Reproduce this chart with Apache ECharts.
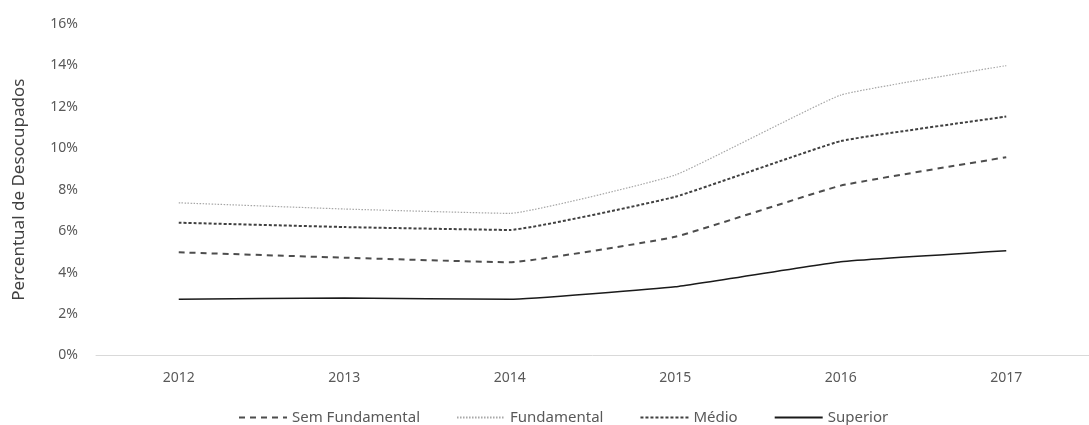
<!DOCTYPE html>
<html>
<head>
<meta charset="utf-8">
<script src="https://cdn.jsdelivr.net/npm/echarts@6/dist/echarts.min.js"></script>
<style>
  html, body { margin: 0; padding: 0; background: #fff; }
  #chart { width: 1089px; height: 425px; }
</style>
</head>
<body>
<div id="chart"></div>
<script>
// Unemployment share by education level, 2012-2017 (percent)
const years = ['2012', '2013', '2014', '2015', '2016', '2017'];
const semFundamental = [4.98, 4.72, 4.50, 5.73, 8.20, 9.57];
const fundamental = [7.37, 7.07, 6.86, 8.71, 12.57, 13.99];
const medio = [6.41, 6.20, 6.06, 7.66, 10.35, 11.53];
const superior = [2.71, 2.78, 2.71, 3.32, 4.53, 5.06];

const FONT = 'Noto Sans';
const chart = echarts.init(document.getElementById('chart'));

function lineSeries(name, data, color, width, type) {
  return {
    name: name,
    type: 'line',
    data: data,
    smooth: 0.1,
    symbol: 'none',
    lineStyle: { color: color, width: width, type: type },
    itemStyle: { color: color },
    emphasis: { disabled: true }
  };
}

chart.setOption({
  animation: false,
  backgroundColor: '#ffffff',
  grid: { left: 96, right: -9, top: 24, bottom: 69.5 },
  legend: {
    top: 405,
    left: 233,
    itemWidth: 48,
    itemHeight: 14,
    itemGap: 36,
    itemStyle: { color: 'transparent', borderWidth: 0, opacity: 0 },
    textStyle: { fontFamily: FONT, fontSize: 15, color: '#595959' },
    data: ['Sem Fundamental', 'Fundamental', 'Médio', 'Superior']
  },
  xAxis: {
    type: 'category',
    data: years,
    boundaryGap: true,
    axisLine: { show: true, lineStyle: { color: '#d9d9d9', width: 1 } },
    axisTick: { show: false },
    axisLabel: { fontFamily: FONT, fontSize: 14, color: '#595959', margin: 16 }
  },
  yAxis: {
    type: 'value',
    min: 0,
    max: 16,
    interval: 2,
    name: 'Percentual de Desocupados',
    nameLocation: 'middle',
    nameGap: 68,
    nameTextStyle: { fontFamily: FONT, fontSize: 17, color: '#404040' },
    axisLine: { show: false },
    axisTick: { show: false },
    splitLine: { show: false },
    axisLabel: {
      fontFamily: FONT, fontSize: 14, color: '#595959', margin: 18,
      formatter: function (v) { return v + '%'; }
    }
  },
  series: [
    lineSeries('Sem Fundamental', semFundamental, '#4d4d4d', 2, [6, 5]),
    lineSeries('Fundamental', fundamental, '#a6a6a6', 1.2, [1.5, 1.5]),
    lineSeries('Médio', medio, '#404040', 2, [3, 2]),
    lineSeries('Superior', superior, '#1a1a1a', 1.5, 'solid')
  ]
});
</script>
</body>
</html>
